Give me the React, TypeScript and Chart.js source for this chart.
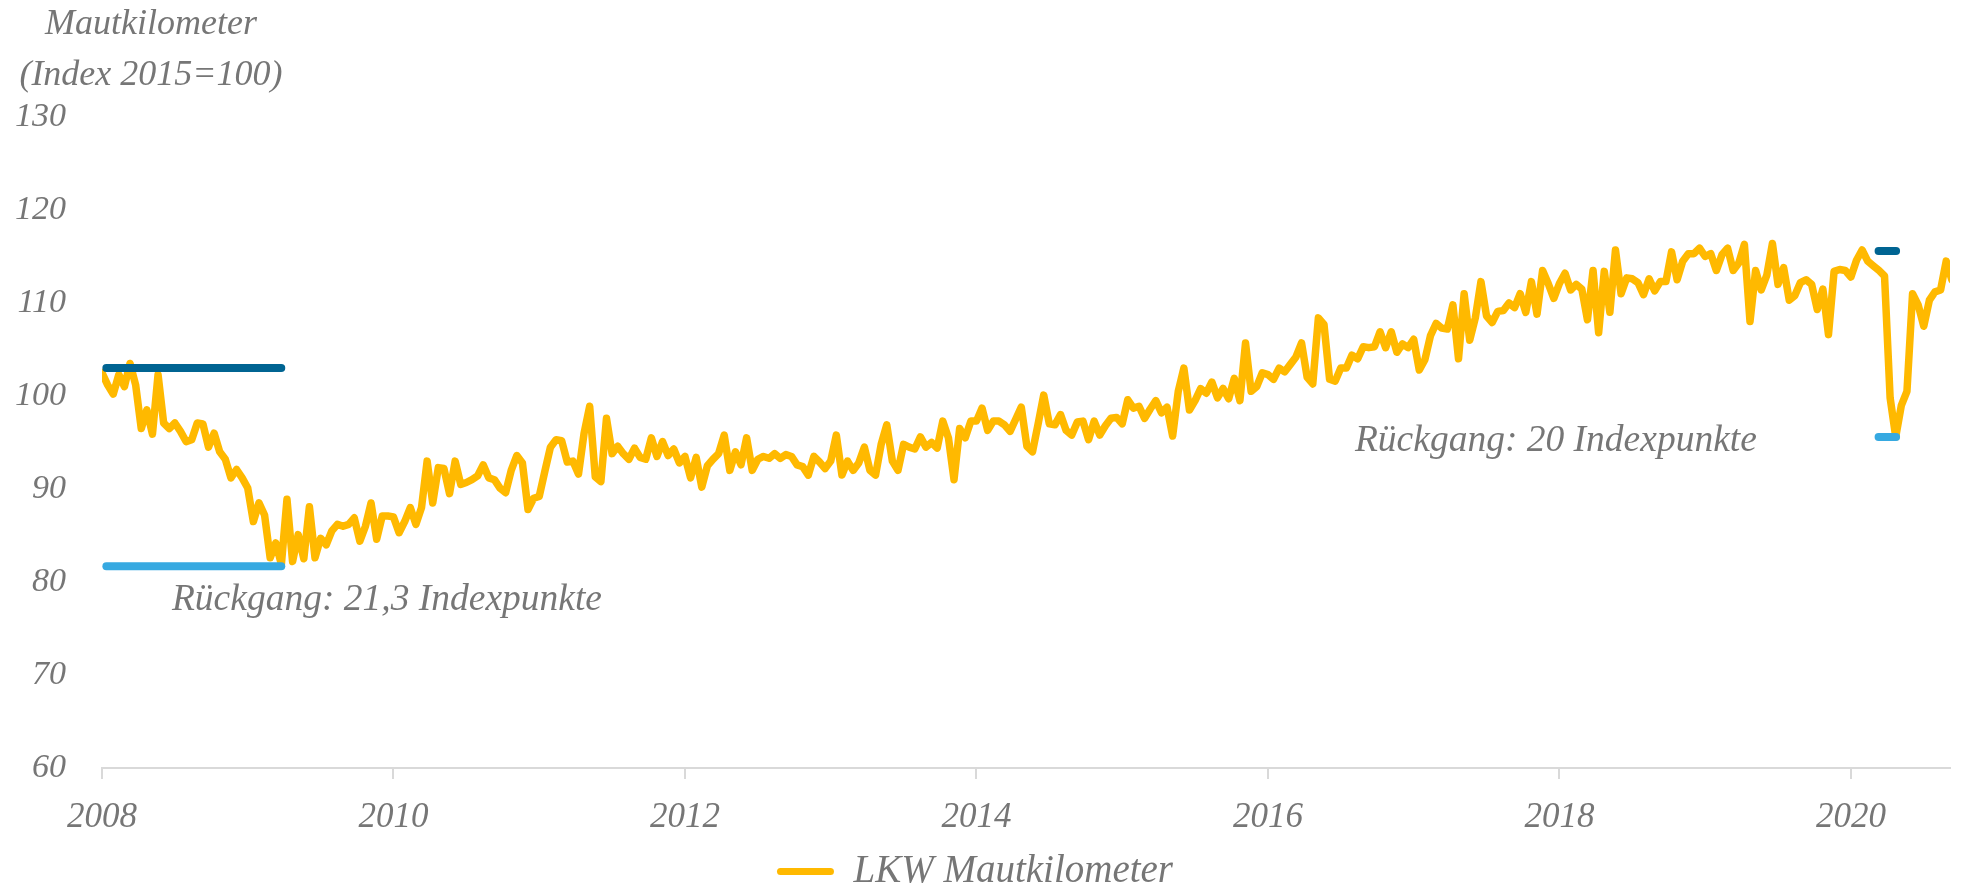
import React, { useEffect, useRef } from "react";
import { Chart, registerables } from "chart.js";

Chart.register(...registerables);

// ---------- data ----------
const seriesLabel = "LKW Mautkilometer";
const axisTitle = ["Mautkilometer", "(Index 2015=100)"];
const years = [2008, 2009, 2010, 2011, 2012, 2013, 2014, 2015, 2016, 2017, 2018, 2019, 2020];
const stepsPerYear = 26; // two-weekly readings

const v2008 = [102.5, 101.2, 100.2, 102.3, 101.0, 103.5, 101.2, 96.5, 98.5, 95.9, 102.3, 97.1, 96.5, 97.1, 96.2, 95.1, 95.3, 97.1, 97.0, 94.5, 96.0, 94.0, 93.2, 91.2, 92.1, 91.2];
const v2009 = [90.1, 86.5, 88.5, 87.2, 82.6, 84.2, 81.9, 88.9, 82.2, 85.1, 82.5, 88.1, 82.6, 84.7, 84.0, 85.5, 86.2, 86.0, 86.2, 86.9, 84.4, 86.0, 88.5, 84.6, 87.1, 87.1];
const v2010 = [87.0, 85.3, 86.5, 88.0, 86.2, 88.0, 93.0, 88.5, 92.3, 92.2, 89.5, 93.0, 90.5, 90.7, 91.0, 91.4, 92.6, 91.2, 91.0, 90.1, 89.6, 92.0, 93.6, 92.8, 87.8, 89.0];
const v2011 = [89.2, 91.9, 94.5, 95.3, 95.2, 92.9, 93.0, 91.6, 96.0, 98.9, 91.3, 90.8, 97.6, 93.8, 94.6, 93.8, 93.2, 94.4, 93.4, 93.2, 95.5, 93.5, 95.1, 93.6, 94.3, 92.8];
const v2012 = [93.5, 91.2, 93.4, 90.2, 92.5, 93.2, 93.8, 95.8, 92.0, 94.0, 92.6, 95.5, 92.0, 93.2, 93.5, 93.3, 93.8, 93.3, 93.7, 93.5, 92.6, 92.4, 91.5, 93.5, 92.9, 92.2];
const v2013 = [93.0, 95.8, 91.5, 93.0, 92.0, 92.8, 94.5, 92.0, 91.5, 94.8, 96.9, 93.0, 92.0, 94.8, 94.5, 94.3, 95.6, 94.5, 95.0, 94.4, 97.3, 95.5, 91.0, 96.5, 95.5, 97.3];
const v2014 = [97.3, 98.7, 96.3, 97.3, 97.3, 96.9, 96.2, 97.5, 98.8, 94.6, 94.0, 97.0, 100.1, 97.0, 96.9, 98.0, 96.3, 95.8, 97.2, 97.3, 95.3, 97.3, 95.8, 96.8, 97.6, 97.7];
const v2015 = [97.0, 99.6, 98.7, 98.9, 97.6, 98.6, 99.5, 98.2, 98.8, 95.7, 100.5, 103.0, 98.5, 99.5, 100.8, 100.3, 101.5, 99.8, 100.8, 99.7, 101.9, 99.5, 105.7, 100.5, 101.0, 102.5];
const v2016 = [102.3, 101.8, 103.0, 102.6, 103.4, 104.2, 105.7, 102.0, 101.3, 108.4, 107.7, 101.8, 101.6, 103.0, 103.0, 104.4, 104.0, 105.3, 105.2, 105.3, 106.9, 105.2, 106.9, 104.7, 105.6, 105.2];
const v2017 = [106.1, 102.8, 103.9, 106.5, 107.8, 107.3, 107.2, 109.8, 104.0, 111.0, 106.0, 108.4, 112.3, 108.6, 107.9, 109.1, 109.2, 110.0, 109.5, 111.0, 109.0, 112.3, 108.8, 113.5, 112.1, 110.5];
const v2018 = [112.1, 113.2, 111.4, 112.0, 111.5, 108.2, 113.5, 106.8, 113.4, 109.0, 115.7, 111.0, 112.7, 112.6, 112.2, 110.9, 112.6, 111.3, 112.3, 112.3, 115.5, 112.5, 114.5, 115.3, 115.3, 115.9];
const v2019 = [115.0, 115.3, 113.5, 115.2, 115.9, 113.5, 114.3, 116.3, 108.0, 113.5, 111.4, 113.0, 116.4, 112.0, 113.8, 110.3, 110.8, 112.2, 112.5, 112.0, 109.3, 111.5, 106.6, 113.4, 113.6, 113.5];
const v2020 = [112.8, 114.6, 115.7, 114.5, 114.0, 113.5, 112.9, 99.8, 95.6, 99.0, 100.5, 111.0, 109.8, 107.5, 110.3, 111.2, 111.4, 114.5, 112.5];
const valuesByYear = [v2008, v2009, v2010, v2011, v2012, v2013, v2014, v2015, v2016, v2017, v2018, v2019, v2020];

const xTickValues = [2008, 2010, 2012, 2014, 2016, 2018, 2020];
const yTickValues = [60, 70, 80, 90, 100, 110, 120, 130];

// drop markers (start, end, level before, level after)
const drop1Span = [2008.03, 2009.23];
const drop1Levels = [103.0, 81.7];
const drop2Span = [2020.19, 2020.31];
const drop2Levels = [115.6, 95.6];

const annotationTexts = ["Rückgang: 21,3 Indexpunkte", "Rückgang: 20 Indexpunkte"];
const annotationX = [2008.48, 2016.597];
const annotationY = [77.0, 94.1];

// ---------- styles ----------
const ORANGE = "#FFB900";
const DARK_BLUE = "#006492";
const LIGHT_BLUE = "#36A9E1";
const GREY = "#767676";
const AXIS_GREY = "#D9D9D9";
const FAMILY = '"Liberation Serif", "Times New Roman", serif';

const App: React.FC = () => {
  const canvasRef = useRef<HTMLCanvasElement | null>(null);

  useEffect(() => {
    document.body.style.margin = "0";
    const canvas = canvasRef.current;
    if (!canvas) return;

    const points: { x: number; y: number }[] = [];
    years.forEach((yr, i) => {
      valuesByYear[i].forEach((v, k) => points.push({ x: yr + k / stepsPerYear, y: v }));
    });

    const seg = (span: number[], level: number) => [
      { x: span[0], y: level },
      { x: span[1], y: level },
    ];

    const barStyle = (color: string) => ({
      borderColor: color,
      backgroundColor: color,
      borderWidth: 8,
      borderCapStyle: "round" as const,
      pointRadius: 0,
      pointHoverRadius: 0,
      clip: false as const,
      order: 1,
    });

    const titlePlugin = {
      id: "axisTitle",
      afterDraw(chart: Chart) {
        const ctx = chart.ctx;
        ctx.save();
        ctx.fillStyle = GREY;
        ctx.font = `italic 36px ${FAMILY}`;
        ctx.textAlign = "center";
        ctx.textBaseline = "alphabetic";
        ctx.fillText(axisTitle[0], 151, 34);
        ctx.fillText(axisTitle[1], 151, 85);
        ctx.restore();
      },
    };

    const annotationPlugin = {
      id: "dropAnnotations",
      afterDatasetsDraw(chart: Chart) {
        const ctx = chart.ctx;
        const xs = chart.scales.x;
        const ys = chart.scales.y;
        ctx.save();
        ctx.fillStyle = GREY;
        ctx.font = `italic 37.5px ${FAMILY}`;
        ctx.textAlign = "left";
        ctx.textBaseline = "alphabetic";
        annotationTexts.forEach((t, i) => {
          ctx.fillText(t, xs.getPixelForValue(annotationX[i]), ys.getPixelForValue(annotationY[i]));
        });
        ctx.restore();
      },
    };

    const chart = new Chart(canvas, {
      type: "line",
      data: {
        datasets: [
          {
            label: seriesLabel,
            data: points,
            borderColor: ORANGE,
            backgroundColor: ORANGE,
            borderWidth: 7.5,
            borderJoinStyle: "round",
            borderCapStyle: "round",
            pointRadius: 0,
            pointHoverRadius: 0,
            tension: 0,
            order: 2,
          },
          { label: "drop1top", data: seg(drop1Span, drop1Levels[0]), ...barStyle(DARK_BLUE) },
          { label: "drop1bottom", data: seg(drop1Span, drop1Levels[1]), ...barStyle(LIGHT_BLUE) },
          { label: "drop2top", data: seg(drop2Span, drop2Levels[0]), ...barStyle(DARK_BLUE) },
          { label: "drop2bottom", data: seg(drop2Span, drop2Levels[1]), ...barStyle(LIGHT_BLUE) },
        ],
      },
      options: {
        animation: false,
        responsive: true,
        maintainAspectRatio: false,
        parsing: false,
        normalized: true,
        layout: { padding: { top: 117, right: 13, bottom: 0, left: 0 } },
        scales: {
          x: {
            type: "linear",
            min: 2008,
            max: 2020.68,
            afterBuildTicks: (scale: any) => {
              scale.ticks = xTickValues.map((v) => ({ value: v }));
            },
            afterFit: (scale: any) => {
              scale.height = 84;
            },
            ticks: {
              color: GREY,
              font: { family: FAMILY, size: 35, style: "italic" },
              padding: 18,
              maxRotation: 0,
              autoSkip: false,
              callback: (v: any) => String(v),
            },
            grid: {
              display: true,
              drawOnChartArea: false,
              drawTicks: true,
              tickLength: 11,
              color: AXIS_GREY,
              lineWidth: 2,
            },
            border: { display: true, color: AXIS_GREY, width: 2 },
          },
          y: {
            type: "linear",
            min: 60,
            max: 130,
            afterBuildTicks: (scale: any) => {
              scale.ticks = yTickValues.map((v) => ({ value: v }));
            },
            afterFit: (scale: any) => {
              scale.width = 102;
            },
            ticks: {
              color: GREY,
              font: { family: FAMILY, size: 34, style: "italic" },
              padding: 28,
              callback: (v: any) => String(v),
            },
            grid: { display: false },
            border: { display: false },
          },
        },
        plugins: {
          tooltip: { enabled: false },
          legend: {
            display: true,
            position: "bottom",
            maxHeight: 35,
            labels: {
              color: GREY,
              font: { family: FAMILY, size: 39, style: "italic" },
              boxWidth: 57,
              boxHeight: 7,
              padding: 0,
              useBorderRadius: true,
              borderRadius: 3.5,
              generateLabels: (c: Chart) =>
                Chart.defaults.plugins.legend.labels
                  .generateLabels(c)
                  .filter((l: any) => l.datasetIndex === 0)
                  .map((l: any) => ({ ...l, lineWidth: 0, fillStyle: ORANGE })),
            },
          },
        },
      },
      plugins: [titlePlugin, annotationPlugin],
    } as any);

    return () => chart.destroy();
  }, []);

  return (
    <div style={{ position: "relative", width: 1963, height: 887 }}>
      <canvas ref={canvasRef} />
    </div>
  );
};

export default App;
